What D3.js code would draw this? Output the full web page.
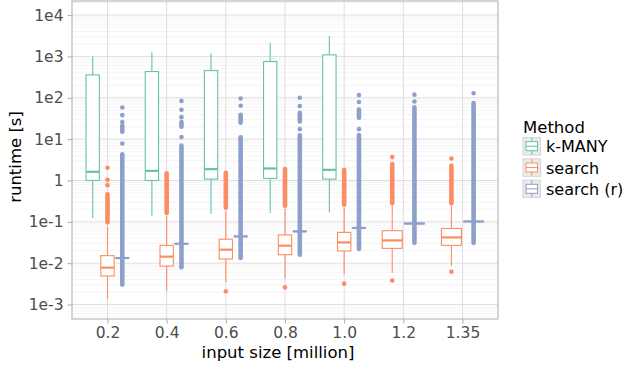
<!DOCTYPE html>
<html>
<head>
<meta charset="utf-8">
<script src="https://cdn.jsdelivr.net/npm/d3@7"></script>
<style>
  body { margin: 0; background: #fff; }
  svg { display: block; font-family: "DejaVu Sans", sans-serif; }
</style>
</head>
<body>
<svg id="chart" width="626" height="371"></svg>
<script>
const categories = ['0.2', '0.4', '0.6', '0.8', '1.0', '1.2', '1.35'];
const methods = ['k-MANY', 'search', 'search (r)'];
const methodColors = ['#66c2a5', '#fc8d62', '#8da0cb'];
const yTickValues = [1e-3, 1e-2, 1e-1, 1, 1e1, 1e2, 1e3, 1e4];
const yTickLabels = ['1e-3', '1e-2', '1e-1', '1', '1e1', '1e2', '1e3', '1e4'];

// [lower whisker, q1, median, q3, upper whisker] per input size
const kmanyStats = [
  [0.123, 1.0, 1.62, 357, 1000],
  [0.14, 1.0, 1.71, 430, 1260],
  [0.154, 1.08, 1.88, 454, 1190],
  [0.163, 1.12, 1.95, 750, 2150],
  [0.169, 1.08, 1.81, 1090, 3130]
];
const searchStats = [
  [0.00136, 0.0049, 0.0078, 0.0152, 0.077],
  [0.0021, 0.0085, 0.0144, 0.027, 0.14],
  [0.0035, 0.0126, 0.0212, 0.038, 0.185],
  [0.0042, 0.016, 0.0265, 0.048, 0.21],
  [0.0053, 0.0197, 0.0317, 0.0555, 0.22],
  [0.0058, 0.0228, 0.0355, 0.061, 0.24],
  [0.0084, 0.027, 0.042, 0.069, 0.24]
];
const searchRStats = [
  [0.0131, 0.0131, 0.0133, 0.0135, 0.0135],
  [0.0291, 0.0291, 0.0295, 0.0299, 0.0299],
  [0.0438, 0.0438, 0.0444, 0.045, 0.045],
  [0.0579, 0.0579, 0.0587, 0.0595, 0.0595],
  [0.070, 0.070, 0.071, 0.072, 0.072],
  [0.0897, 0.0897, 0.091, 0.0923, 0.0923],
  [0.1006, 0.1006, 0.102, 0.1034, 0.1034]
];

// single outliers
const kmanyOutliers = [[], [], [], [], []];
const searchOutliers = [[2.03, 1.04, 0.77], [], [0.0021], [0.0026], [0.0032], [3.67, 0.0038], [3.4, 0.0062]];
const searchROutliers = [[58, 38, 25.8, 7.8], [84, 51, 34, 11.2], [96, 64], [100, 63, 17.4], [116, 79, 17.4], [119, 81], [129]];

// outliers packed too tightly to tell apart: [top, bottom]
const kmanyRuns = [[], [], [], [], []];
const searchRuns = [[[0.46, 0.097]], [[1.5, 0.163]], [[1.53, 0.22]], [[1.9, 0.245]], [[1.8, 0.26]], [[2.5, 0.28]], [[2.3, 0.28]]];
const searchRRuns = [
  [[21, 15], [4.3, 0.003]],
  [[26, 20], [7.0, 0.008]],
  [[39, 25], [11.1, 0.0133]],
  [[43, 26.7], [12.3, 0.016]],
  [[52, 33], [12.6, 0.022]],
  [[59, 0.031]],
  [[75, 0.031]]
];

const allStats = [kmanyStats, searchStats, searchRStats];
const allOutliers = [kmanyOutliers, searchOutliers, searchROutliers];
const allRuns = [kmanyRuns, searchRuns, searchRRuns];

const panel = { left: 72, right: 498, top: 1, bottom: 319 };
const svg = d3.select('#chart');

const x = d3.scalePoint()
  .domain(categories)
  .range([panel.left, panel.right])
  .padding(0.6);

const y = d3.scaleLog()
  .domain([Math.pow(10, -3.35), Math.pow(10, 4.34)])
  .range([panel.bottom, panel.top]);

// grid
const grid = svg.append('g');
grid.selectAll('line.minor')
  .data(y.ticks().filter(d => yTickValues.indexOf(d) < 0))
  .enter().append('line')
  .attr('x1', panel.left).attr('x2', panel.right)
  .attr('y1', d => y(d)).attr('y2', d => y(d))
  .attr('stroke', '#efefef').attr('stroke-width', 0.6);
grid.selectAll('line.major')
  .data(yTickValues)
  .enter().append('line')
  .attr('x1', panel.left).attr('x2', panel.right)
  .attr('y1', d => y(d)).attr('y2', d => y(d))
  .attr('stroke', '#dedede').attr('stroke-width', 1);
grid.selectAll('line.vert')
  .data(categories)
  .enter().append('line')
  .attr('x1', d => x(d)).attr('x2', d => x(d))
  .attr('y1', panel.top).attr('y2', panel.bottom)
  .attr('stroke', '#dedede').attr('stroke-width', 1);

// boxes, dodged inside each category
const marks = svg.append('g');
categories.forEach((cat, i) => {
  const present = [0, 1, 2].filter(m => allStats[m][i]);
  const slot = 0.75 / present.length * x.step();
  const boxW = slot * 0.9;
  present.forEach((m, j) => {
    const cx = x(cat) + (j - (present.length - 1) / 2) * slot;
    const s = allStats[m][i];
    const col = methodColors[m];
    const g = marks.append('g');

    g.selectAll('line.run')
      .data(allRuns[m][i])
      .enter().append('line')
      .attr('x1', cx).attr('x2', cx)
      .attr('y1', d => y(d[0])).attr('y2', d => y(d[1]))
      .attr('stroke', col).attr('stroke-width', 4.6)
      .attr('stroke-linecap', 'round');

    g.selectAll('circle')
      .data(allOutliers[m][i])
      .enter().append('circle')
      .attr('cx', cx).attr('cy', d => y(d)).attr('r', 2.3)
      .attr('fill', col);

    g.append('line')
      .attr('x1', cx).attr('x2', cx)
      .attr('y1', y(s[4])).attr('y2', y(s[3]))
      .attr('stroke', col).attr('stroke-width', 1.1);
    g.append('line')
      .attr('x1', cx).attr('x2', cx)
      .attr('y1', y(s[1])).attr('y2', y(s[0]))
      .attr('stroke', col).attr('stroke-width', 1.1);
    g.append('rect')
      .attr('x', cx - boxW / 2).attr('width', boxW)
      .attr('y', y(s[3])).attr('height', y(s[1]) - y(s[3]))
      .attr('fill', '#fff').attr('stroke', col).attr('stroke-width', 1.1);
    g.append('line')
      .attr('x1', cx - boxW / 2).attr('x2', cx + boxW / 2)
      .attr('y1', y(s[2])).attr('y2', y(s[2]))
      .attr('stroke', col).attr('stroke-width', 2.2);
  });
});

// border
svg.append('rect')
  .attr('x', panel.left).attr('y', panel.top)
  .attr('width', panel.right - panel.left).attr('height', panel.bottom - panel.top)
  .attr('fill', 'none').attr('stroke', '#b3b3b3').attr('stroke-width', 1.1);

// axes
const yAxis = svg.append('g')
  .attr('transform', 'translate(' + panel.left + ',0)')
  .call(d3.axisLeft(y).tickValues(yTickValues).tickFormat((d, i) => yTickLabels[i]).tickSize(4.5).tickPadding(4));
const xAxis = svg.append('g')
  .attr('transform', 'translate(0,' + panel.bottom + ')')
  .call(d3.axisBottom(x).tickSize(4.5).tickPadding(3.2));
[yAxis, xAxis].forEach(a => {
  a.select('.domain').remove();
  a.selectAll('line').attr('stroke', '#b3b3b3').attr('stroke-width', 1.1);
  a.selectAll('text')
    .style('font-family', '"DejaVu Sans", sans-serif')
    .style('font-size', '15.5px')
    .attr('fill', '#4d4d4d');
});

svg.append('text')
  .attr('x', 278).attr('y', 358)
  .attr('text-anchor', 'middle')
  .style('font-size', '16.5px')
  .text('input size [million]');
svg.append('text')
  .attr('transform', 'translate(21,157) rotate(-90)')
  .attr('text-anchor', 'middle')
  .style('font-size', '16.5px')
  .text('runtime [s]');

// legend
const legend = svg.append('g').attr('transform', 'translate(523,0)');
legend.append('text')
  .attr('x', 0).attr('y', 133)
  .style('font-size', '16.5px')
  .text('Method');
methods.forEach((name, k) => {
  const top = 137.5 + k * 21.3;
  const key = legend.append('g').attr('transform', 'translate(0,' + top + ')');
  key.append('rect')
    .attr('width', 17.5).attr('height', 17.5)
    .attr('fill', '#ebebeb').attr('stroke', '#d4d4d4').attr('stroke-width', 1);
  key.append('line')
    .attr('x1', 8.75).attr('x2', 8.75).attr('y1', 0.5).attr('y2', 17)
    .attr('stroke', methodColors[k]).attr('stroke-width', 1);
  key.append('rect')
    .attr('x', 3).attr('y', 4.2).attr('width', 11.5).attr('height', 9)
    .attr('fill', '#fff').attr('stroke', methodColors[k]).attr('stroke-width', 1);
  key.append('line')
    .attr('x1', 3).attr('x2', 14.5).attr('y1', 8.75).attr('y2', 8.75)
    .attr('stroke', methodColors[k]).attr('stroke-width', 1);
  legend.append('text')
    .attr('x', 23).attr('y', top + 14.8)
    .style('font-size', '16px')
    .text(name);
});
</script>
</body>
</html>
